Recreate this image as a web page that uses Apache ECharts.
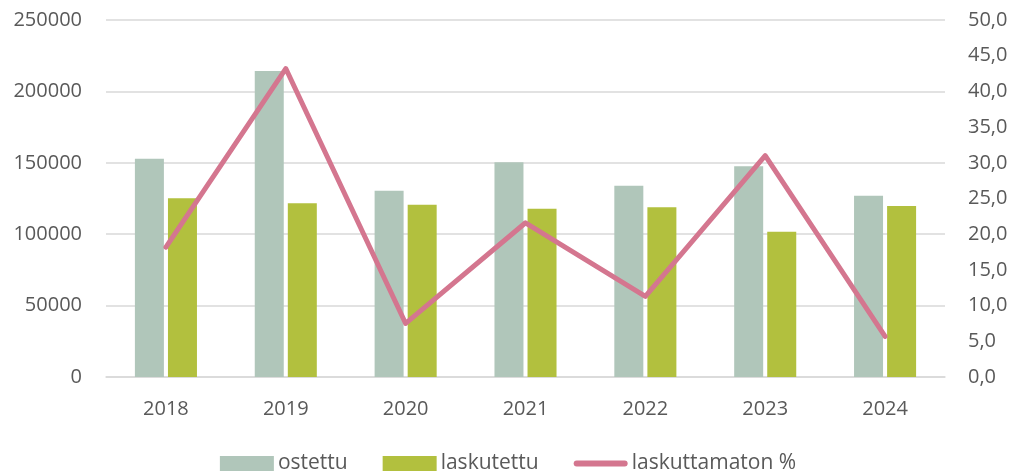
<!DOCTYPE html>
<html>
<head>
<meta charset="utf-8">
<script src="https://cdn.jsdelivr.net/npm/echarts@6/dist/echarts.min.js"></script>
<style>
    html, body { margin: 0; padding: 0; background: #fff; }
    #chart { width: 1016px; height: 474px; }
</style>
</head>
<body>
<div id="chart"></div>
<script>
const years = ['2018', '2019', '2020', '2021', '2022', '2023', '2024'];
const ostettu = [152900, 214300, 130500, 150300, 134000, 147500, 127000];
const laskutettu = [125100, 121600, 120700, 117900, 118800, 101800, 119800];
const laskuttamaton = [18.2, 43.2, 7.5, 21.6, 11.3, 31.0, 5.7];
const leftTicks = [0, 50000, 100000, 150000, 200000, 250000];
const rightTicks = [0, 5, 10, 15, 20, 25, 30, 35, 40, 45, 50];

const textColor = '#595959';
const font = 'Open Sans';
const gridColor = '#d9d9d9';

let chart = echarts.init(document.getElementById('chart'));

chart.setOption({
    animation: false,
    textStyle: {fontFamily: font},
    grid: {left: 106, right: 71, top: 20, bottom: 97},
    legend: {
        top: 448,
        left: 'center',
        itemWidth: 54,
        itemHeight: 15,
        itemGap: 35,
        textStyle: {color: textColor, fontSize: 21, fontFamily: font, padding: [0, 0, 0, -1]},
        data: [
            {name: 'ostettu', icon: 'rect'},
            {name: 'laskutettu', icon: 'rect'},
            {name: 'laskuttamaton %', icon: 'path://M3,0 L51,0 A3,3 0 0 1 51,6 L3,6 A3,3 0 0 1 3,0 Z'}
        ]
    },
    xAxis: {
        type: 'category',
        data: years,
        axisTick: {show: false},
        axisLine: {lineStyle: {color: gridColor, width: 1.5}},
        axisLabel: {color: textColor, fontSize: 20, margin: 22}
    },
    yAxis: [
        {
            type: 'value',
            min: leftTicks[0],
            max: leftTicks[leftTicks.length - 1],
            interval: 50000,
            axisLine: {show: false},
            axisTick: {show: false},
            splitLine: {lineStyle: {color: gridColor, width: 1.5}},
            axisLabel: {
                color: textColor,
                fontSize: 20,
                margin: 24,
                formatter: (v) => String(v)
            }
        },
        {
            type: 'value',
            min: rightTicks[0],
            max: rightTicks[rightTicks.length - 1],
            interval: 5,
            axisLine: {show: false},
            axisTick: {show: false},
            splitLine: {show: false},
            axisLabel: {
                color: textColor,
                fontSize: 20,
                margin: 23,
                formatter: (v) => v.toFixed(1).replace('.', ',')
            }
        }
    ],
    series: [
        {
            name: 'ostettu',
            type: 'bar',
            data: ostettu,
            barWidth: 29,
            barGap: '14%',
            itemStyle: {color: '#b0c6ba'}
        },
        {
            name: 'laskutettu',
            type: 'bar',
            data: laskutettu,
            barWidth: 29,
            itemStyle: {color: '#b2c03e'}
        },
        {
            name: 'laskuttamaton %',
            type: 'line',
            yAxisIndex: 1,
            data: laskuttamaton,
            symbol: 'none',
            lineStyle: {color: '#d4768f', width: 5, cap: 'round', join: 'round'},
            itemStyle: {color: '#d4768f'}
        }
    ]
});
</script>
</body>
</html>
